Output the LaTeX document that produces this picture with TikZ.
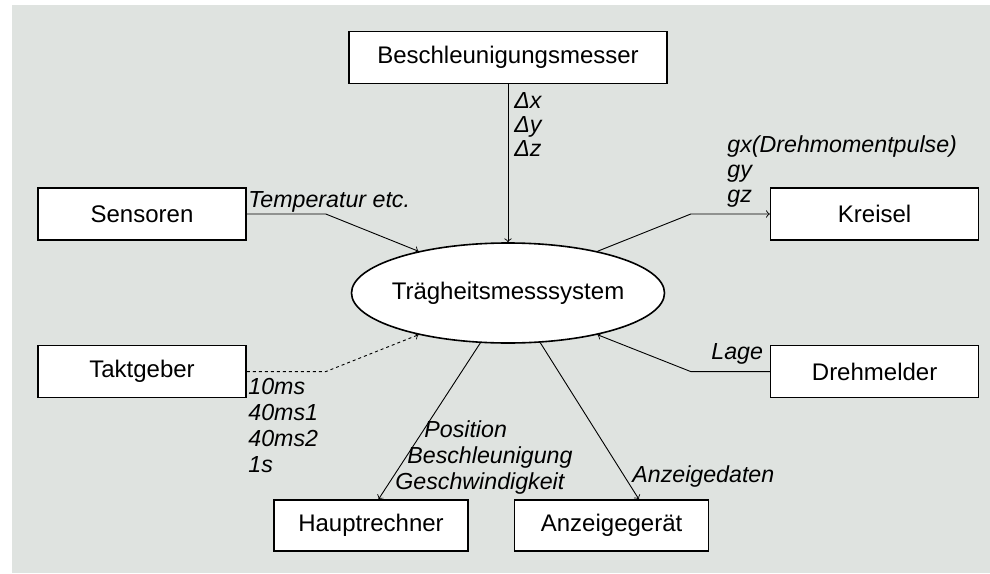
\documentclass[tikz,border=0pt]{standalone}
\usepackage{fontspec}
\setmainfont{Liberation Sans}
\usepackage{tikz}
\usetikzlibrary{positioning}
\usetikzlibrary{shapes.geometric}
\usetikzlibrary{arrows}
\definecolor{bggray}{RGB}{223,227,224}

\begin{document}
\begin{tikzpicture}[x=0.5pt, y=-0.5pt,
        box/.style={draw, fill=white, line width=0.8pt, minimum width=104pt, minimum height=26pt, inner sep=0pt, font=\fontsize{12}{12}\selectfont},
        lbl/.style={inner sep=0pt, anchor=north west, align=left, font=\fontsize{11.6}{13}\selectfont\itshape},
        flow/.style={->, line width=0.45pt}]
        % background %
        \useasboundingbox (0,0) rectangle (990,573);
        \fill[bggray] (12,5) rectangle (990,573);

        % nodes %
        \node[ellipse, draw, fill=white, line width=0.8pt, minimum width=156.5pt, minimum height=50pt, inner xsep=-4pt, inner ysep=0pt, font=\fontsize{12}{12}\selectfont] (sys) at (508,293) {Trägheitsmesssystem};
        \node[box, above=79pt of sys, minimum width=159pt] (accel) {Beschleunigungsmesser};
        \node[box] (sens) at (142,214) {Sensoren};
        \node[box, right=261.5pt of sens] (gyro) {Kreisel};
        \node[box, below=52pt of sens] (clock) {Taktgeber};
        \node[box, below=52pt of gyro] (resolver) {Drehmelder};
        \node[box, minimum width=97pt, minimum height=25.5pt] (cpu) at (371,525.5) {Hauptrechner};
        \node[box, right=22.5pt of cpu, minimum width=97pt, minimum height=25.5pt] (display) {Anzeigegerät};

        % labels %
        \node[lbl, font=\fontsize{11.6}{12}\selectfont\itshape] (deltas) at (514,92) {Δx\\Δy\\Δz};
        \node[lbl] (temp) at (248,191) {Temperatur etc.};
        \node[lbl, font=\fontsize{11.6}{12.5}\selectfont\itshape] (torque) at (727,135) {gx(Drehmomentpulse)\\gy\\gz};
        \node[lbl] (att) at (711,343) {Lage};
        \node[lbl] (ticks) at (248,378) {10ms\\40ms1\\40ms2\\1s};
        \node[lbl] (navdata) at (395,420) {\hspace{14.5pt}Position\\\hspace{6pt}Beschleunigung\\Geschwindigkeit};
        \node[lbl] (dispdata) at (632,465) {Anzeigedaten};

        % edges %
        \draw [flow] (accel) -- (sys);
        \draw [flow] (sens.east) -- ([xshift=39.5pt]sens.east) -- (sys.155);
        \draw [flow] (sys.25) -- ([xshift=-39.5pt]gyro.west) -- (gyro.west);
        \draw [flow, dash pattern=on 1.5pt off 1.5pt] (clock.east) -- ([xshift=39.5pt]clock.east) -- (sys.205);
        \draw [flow] (resolver.west) -- ([xshift=-39.5pt]resolver.west) -- (sys.335);
        \draw [flow] (sys.241) -- (cpu.74);
        \draw [flow] (sys.303) -- (display.44);
\end{tikzpicture}
\end{document}
